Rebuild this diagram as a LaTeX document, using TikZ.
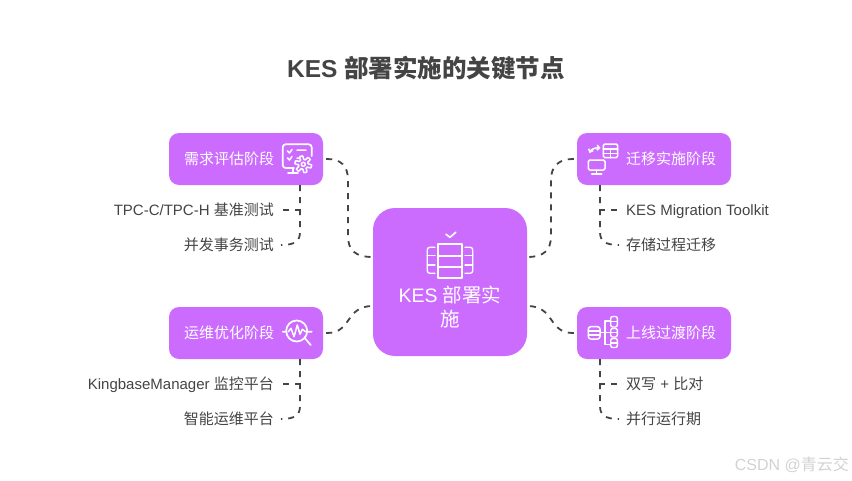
\documentclass[tikz,border=0pt]{standalone}
\usepackage{fontspec}
\setmainfont{Liberation Sans}
\newfontfamily\cjk{Noto Sans CJK SC}
\usetikzlibrary{arrows.meta}
\definecolor{kpurple}{HTML}{CC6CFF}
\definecolor{kdark}{HTML}{444444}
\definecolor{kmark}{HTML}{D2D2D2}
\newcommand{\zh}[1]{{\cjk #1}}
\tikzset{
  x=1pt,y=-1pt,
  hub/.style={fill=kpurple,rounded corners=22pt,minimum width=154pt,minimum height=148pt,inner sep=0pt},
  phase/.style={fill=kpurple,rounded corners=10pt,minimum width=154pt,minimum height=52pt,inner sep=0pt},
  txt/.style={inner sep=0pt,font=\fontsize{15}{17}\selectfont,text height=13.5pt,text depth=2pt},
  wtxt/.style={txt,text=white},
  gtxt/.style={txt,text=kdark},
  hubtxt/.style={inner sep=0pt,text=white,font=\fontsize{19.5}{24}\selectfont,text height=15pt,text depth=4pt},
  conn/.style={draw=kdark,line width=1.8pt,dash pattern=on 6pt off 6pt,dash phase=9pt},
  icon/.style={draw=white,line width=1.7pt,line cap=round,line join=round},
}
\begin{document}
\begin{tikzpicture}
\useasboundingbox (0,0) rectangle (852,480);
\node[inner sep=0pt,text=kdark,font=\fontsize{24.5}{30}\selectfont\bfseries] (title) at (426,68) {KES {\cjk\bfseries 部署实施的关键节点}};

\node[hub] (hub) at (450,282) {};
\node[phase] (p1) at (246,159) {};
\node[phase] (p2) at (654,159) {};
\node[phase] (p3) at (246,333) {};
\node[phase] (p4) at (654,333) {};

\node[hubtxt] (hubA) at (450,297) {KES \zh{部署实}};
\node[hubtxt] (hubB) at (450,321) {\zh{施}};

\node[wtxt] (t1) at (229,159) {\zh{需求评估阶段}};
\node[wtxt] (t2) at (671,159) {\zh{迁移实施阶段}};
\node[wtxt] (t3) at (229,333) {\zh{运维优化阶段}};
\node[wtxt] (t4) at (671,333) {\zh{上线过渡阶段}};

\node[gtxt,anchor=east] (a1) at (274,210) {TPC-C/TPC-H \zh{基准测试}};
\node[gtxt,anchor=east] (a2) at (274,245) {\zh{并发事务测试}};
\node[gtxt,anchor=west] (b1) at (626,210) {KES Migration Toolkit};
\node[gtxt,anchor=west] (b2) at (626,245) {\zh{存储过程迁移}};
\node[gtxt,anchor=east] (c1) at (274,384) {KingbaseManager \zh{监控平台}};
\node[gtxt,anchor=east] (c2) at (274,419) {\zh{智能运维平台}};
\node[gtxt,anchor=west] (d1) at (626,384) {\zh{双写} + \zh{比对}};
\node[gtxt,anchor=west] (d2) at (626,419) {\zh{并行运行期}};

\node[inner sep=0pt,text=kmark,font=\fontsize{16}{20}\selectfont,anchor=east] (mark) at (849,465) {CSDN @\zh{青云交}};

% hub connectors
\draw[conn] (p1.east) -- ++(4,0) .. controls (341,159) and (348,166) .. (348,180) -- (348,236) .. controls (348,250) and (355,257) .. ([yshift=25pt]hub.west);
\draw[conn] (p2.west) -- ++(-4,0) .. controls (559,159) and (551,166) .. (551,180) -- (551,236) .. controls (551,250) and (544,257) .. ([yshift=25pt]hub.east);
\draw[conn] (p3.east) -- ++(4,0) .. controls (352,333) and (345,306) .. ([yshift=-24pt]hub.west);
\draw[conn] (p4.west) -- ++(-4,0) .. controls (548,333) and (555,306) .. ([yshift=-24pt]hub.east);

% child connectors
\tikzset{kid/.style={draw=kdark,line width=1.8pt,dash pattern=on 6pt off 6pt}}
\draw[kid] ([xshift=54pt]p1.south) -- (300,210) -- ([xshift=8pt]a1.east);
\draw[kid] ([xshift=54pt]p1.south) -- (300,232) .. controls (300,241) and (295,245) .. ([xshift=7pt]a2.east);
\draw[kid] ([xshift=-54pt]p2.south) -- (600,210) -- ([xshift=-8pt]b1.west);
\draw[kid] ([xshift=-54pt]p2.south) -- (600,232) .. controls (600,241) and (605,245) .. ([xshift=-7pt]b2.west);
\draw[kid] ([xshift=54pt]p3.south) -- (300,384) -- ([xshift=8pt]c1.east);
\draw[kid] ([xshift=54pt]p3.south) -- (300,406) .. controls (300,415) and (295,419) .. ([xshift=7pt]c2.east);
\draw[kid] ([xshift=-54pt]p4.south) -- (600,384) -- ([xshift=-8pt]d1.west);
\draw[kid] ([xshift=-54pt]p4.south) -- (600,406) .. controls (600,415) and (605,419) .. ([xshift=-7pt]d2.west);

% hub icon
\draw[icon] (446,234.3) -- (450,237.3) -- (455.7,232.3);
\draw[icon] (437.7,244.3) rectangle (462.3,277.7);
\draw[icon] (437.7,255.7) -- (462.3,255.7) (437.7,266.7) -- (462.3,266.7);
\draw[icon,line width=1.3pt,rounded corners=2.5pt] (435,247.3) -- (427.3,247.3) -- (427.3,273.3) -- (435,273.3);
\draw[icon,line width=1.3pt] (427.3,255.7) -- (435,255.7) (427.3,265) -- (435,265);
\draw[icon,line width=1.3pt,rounded corners=2.5pt] (465,247.3) -- (472.7,247.3) -- (472.7,273.3) -- (465,273.3);
\draw[icon,line width=1.3pt] (465,255.7) -- (472.7,255.7) (465,265) -- (472.7,265);

% icon 1
\draw[icon,rounded corners=3pt] (311.7,156) -- (311.7,144.3) -- (282.7,144.3) -- (282.7,168) -- (294,168);
\draw[icon] (293,168) -- (293,173) (288,173) -- (298,173);
\draw[icon,line width=1.5pt] (287.5,151) -- (289.5,153) -- (292,149.5) (297,150) -- (306,150);
\draw[icon,line width=1.5pt] (287.5,158) -- (289.5,160) -- (292,156.5) (297,158) -- (300,158);
\draw[icon,line width=1.5pt,fill=kpurple] plot[domain=0:360,samples=145] ({303.3+(6.6+1.8*max(min(2*sin(6*\x),1),-1))*cos(\x)},{164.3+(6.6+1.8*max(min(2*sin(6*\x),1),-1))*sin(\x)}) -- cycle;
\draw[icon,line width=1.5pt] (303.3,164.3) circle (2);

% icon 2
\draw[icon,line width=1.5pt,rounded corners=1.5pt] (603.3,144) rectangle (617.7,157.7);
\draw[icon,line width=1.5pt] (603.3,149) -- (617.7,149) (603.3,153.3) -- (617.7,153.3) (610.7,149) -- (610.7,157.7);
\draw[icon,line width=1.5pt,rounded corners=1.5pt] (588.3,160) rectangle (605,170);
\draw[icon,line width=1.5pt] (596.7,170) -- (596.7,174) (591.7,174) -- (601.7,174);
\draw[icon,line width=1.5pt,{Straight Barb[length=2.5pt,width=5pt]}-{Straight Barb[length=2.5pt,width=5pt]}] (589.5,153) .. controls (591,149.5) and (595,147.5) .. (600.5,148);

% icon 3
\draw[icon] (296.7,331) circle (10.5);
\draw[icon] (282.7,331.7) -- (286,331.7) (307.3,331.7) -- (311.7,331.7) (305,338.3) -- (310.7,345);
\draw[icon,line width=1.5pt] (288.3,331.7) -- (291,328.3) -- (294,336.7) -- (297.3,325) -- (300,334.3) -- (302.3,329.3) -- (305.7,331.7);

% icon 4
\draw[icon,line width=1.5pt,rounded corners=2.5pt] (588.3,326.7) rectangle (600,339);
\draw[icon,line width=1.5pt] (588.3,331) -- (600,331) (588.3,335) -- (600,335);
\draw[icon,line width=1.5pt] (601,332.7) -- (610,332.7) (610,321) -- (605,321) -- (605,344.3) -- (610,344.3);
\draw[icon,line width=1.4pt,rounded corners=2pt] (610.7,316.5) rectangle (617.3,327);
\draw[icon,line width=1.4pt,rounded corners=2pt] (610.7,328.5) rectangle (617.3,337);
\draw[icon,line width=1.4pt,rounded corners=2pt] (610.7,338.5) rectangle (617.3,347.5);
\draw[icon,line width=1.4pt] (610.7,321.7) -- (617.3,321.7) (610.7,332.7) -- (617.3,332.7) (610.7,343) -- (617.3,343);
\end{tikzpicture}
\end{document}
